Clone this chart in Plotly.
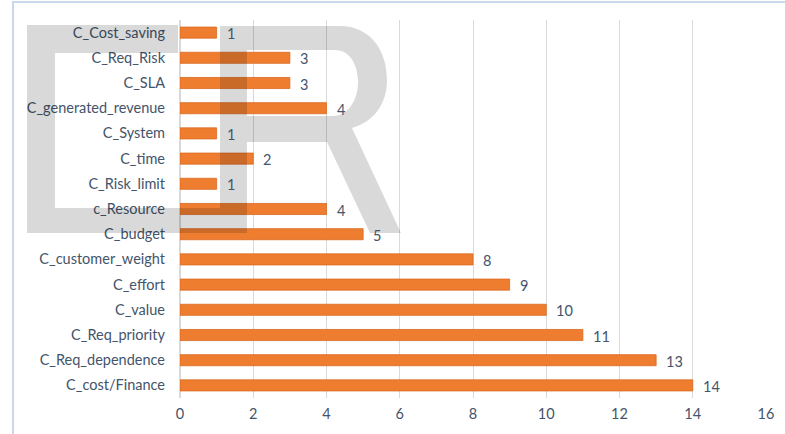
import plotly.graph_objects as go

categories = ["C_cost/Finance", "C_Req_dependence", "C_Req_priority", "C_value",
              "C_effort", "C_customer_weight", "C_budget", "c_Resource",
              "C_Risk_limit", "C_time", "C_System", "C_generated_revenue",
              "C_SLA", "C_Req_Risk", "C_Cost_saving"]
values = [14, 13, 11, 10, 9, 8, 5, 4, 1, 2, 1, 4, 3, 3, 1]
x_ticks = [0, 2, 4, 6, 8, 10, 12, 14, 16]

W, H = 785, 434
L, R, T, B = 180, 19, 20, 36
PW, PH = W - L - R, H - T - B

def px(x):
    return (x - L) / PW

def py(y):
    return (H - B - y) / PH

def path(cmds):
    out = []
    for c in cmds:
        if isinstance(c, str):
            out.append(c)
        else:
            out.append(f"{px(c[0]):.4f},{py(c[1]):.4f}")
    return " ".join(out)

txt = "#44546A"
FONT = "Lato"
FS = 14.5
fig = go.Figure()
fig.add_trace(go.Bar(
    y=categories, x=values, orientation="h",
    marker=dict(color="#EE7D2F", line=dict(color="#D96A22", width=0.8)),
))
for c, v in zip(categories, values):
    fig.add_annotation(x=v, y=c, text=str(v), showarrow=False, xanchor="left",
                       xshift=8, yshift=-1, font=dict(family=FONT, size=FS, color=txt))

shade = "rgba(0,0,0,0.15)"
# watermark "E"-like frame
e_path = path(["M", (27, 25), "L", (178, 25), "L", (178, 53), "L", (55, 53),
               "L", (55, 208), "L", (220, 208), "L", (220, 233), "L", (27, 233), "Z"])
# watermark "R"
r_path = path(["M", (220, 26), "L", (340, 26), "C", (370, 26), (387, 50), (387, 80),
               "C", (387, 105), (373, 122), (352, 128), "L", (401, 233), "L", (370, 233),
               "L", (327, 142), "L", (247, 142), "L", (247, 233), "L", (220, 233), "Z",
               "M", (247, 50), "L", (247, 116), "L", (333, 116),
               "C", (348, 116), (358, 100), (358, 82), "C", (358, 65), (350, 50), (335, 50), "Z"])
for p in (e_path, r_path):
    fig.add_shape(type="path", path=p, xref="paper", yref="paper",
                  fillcolor=shade, line=dict(width=0), layer="above")

# chart border
fig.add_shape(type="rect", xref="paper", yref="paper",
              x0=px(13), x1=px(800), y0=py(460), y1=py(2),
              line=dict(color="#C9D8EA", width=2), fillcolor="rgba(0,0,0,0)", layer="below")

fig.update_layout(
    width=W, height=H,
    margin=dict(l=L, r=R, t=T, b=B),
    paper_bgcolor="white", plot_bgcolor="white",
    bargap=0.56, showlegend=False,
    font=dict(family=FONT, size=FS, color=txt),
    xaxis=dict(range=[0, 16], tickvals=x_ticks, showgrid=True, gridcolor="#D9D9D9",
               gridwidth=1, zeroline=True, zerolinecolor="#D9D9D9", showline=False,
               ticks="", ticklabelstandoff=5, tickfont=dict(family=FONT, size=FS, color=txt),
               fixedrange=True),
    yaxis=dict(type="category", categoryorder="array", categoryarray=categories,
               showgrid=False, ticks="", ticklabelstandoff=14,
               tickfont=dict(family=FONT, size=FS, color=txt), fixedrange=True),
)
fig.write_html("out.html")
